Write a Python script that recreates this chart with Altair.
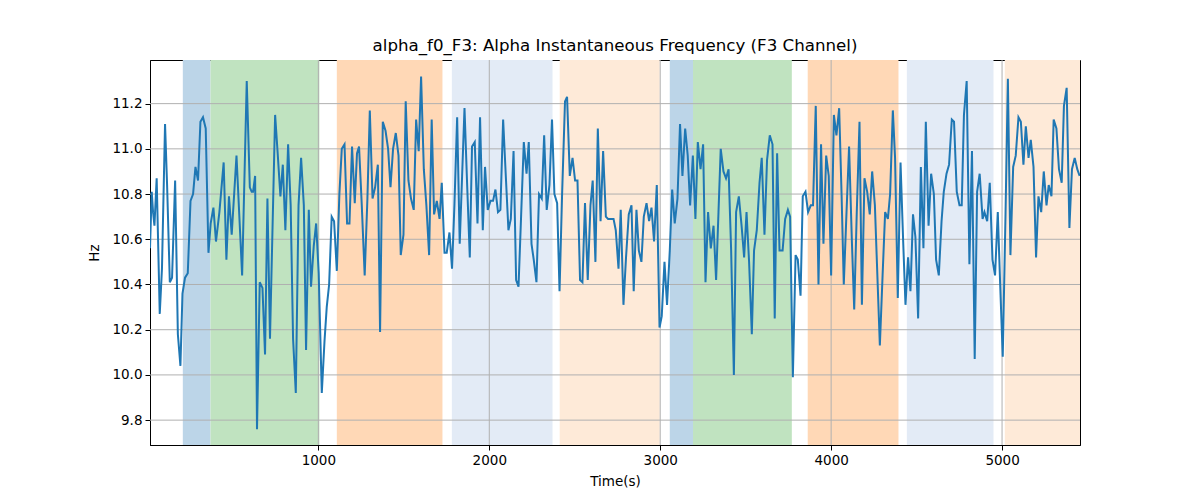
import altair as alt
import pandas as pd

# ---- data ----
times = [15, 25, 33, 41, 54, 72, 85, 103, 115, 131, 144, 162, 178, 193, 205, 220, 236, 252, 267, 281,
         296, 310, 325, 341, 357, 370, 386, 401, 421, 446, 462, 477, 493, 521, 554, 581, 599, 610, 618, 630,
         641, 657, 673, 688, 702, 717, 747, 762, 778, 792, 807, 823, 838, 852, 868, 884, 899, 915, 928, 944,
         957, 973, 987, 1002, 1020, 1036, 1049, 1063, 1078, 1092, 1108, 1123, 1137, 1153, 1168, 1182, 1197, 1213, 1226, 1238,
         1254, 1271, 1287, 1301, 1317, 1332, 1348, 1361, 1377, 1393, 1408, 1422, 1437, 1453, 1469, 1482, 1498, 1511, 1527, 1542,
         1558, 1572, 1587, 1601, 1617, 1632, 1648, 1663, 1677, 1693, 1709, 1722, 1738, 1751, 1767, 1782, 1796, 1812, 1827, 1841,
         1855, 1870, 1886, 1899, 1915, 1931, 1946, 1962, 1975, 1991, 2007, 2022, 2036, 2051, 2065, 2081, 2096, 2112, 2126, 2142,
         2157, 2171, 2186, 2202, 2218, 2231, 2247, 2260, 2276, 2291, 2307, 2321, 2336, 2352, 2367, 2381, 2397, 2411, 2426, 2443,
         2455, 2471, 2487, 2502, 2516, 2531, 2545, 2560, 2576, 2592, 2605, 2621, 2635, 2651, 2666, 2682, 2695, 2711, 2727, 2740,
         2756, 2769, 2785, 2800, 2816, 2832, 2845, 2861, 2875, 2890, 2904, 2920, 2935, 2949, 2964, 2980, 2996, 3009, 3025, 3040,
         3056, 3070, 3085, 3101, 3116, 3130, 3146, 3161, 3175, 3191, 3206, 3220, 3236, 3251, 3265, 3280, 3296, 3312, 3327, 3341,
         3354, 3370, 3385, 3400, 3415, 3431, 3444, 3460, 3476, 3491, 3505, 3520, 3536, 3549, 3565, 3581, 3594, 3610, 3625, 3641,
         3657, 3670, 3684, 3698, 3716, 3731, 3747, 3760, 3776, 3792, 3805, 3821, 3834, 3850, 3865, 3881, 3894, 3910, 3926, 3941,
         3955, 3971, 3986, 4000, 4016, 4031, 4047, 4061, 4074, 4090, 4105, 4121, 4135, 4150, 4166, 4180, 4195, 4211, 4226, 4240,
         4256, 4285, 4301, 4316, 4332, 4345, 4361, 4374, 4390, 4406, 4421, 4435, 4450, 4464, 4479, 4493, 4509, 4525, 4540, 4554,
         4570, 4585, 4601, 4614, 4630, 4646, 4659, 4675, 4690, 4706, 4719, 4735, 4751, 4764, 4777, 4793, 4809, 4824, 4840, 4854,
         4869, 4886, 4897, 4913, 4928, 4944, 4959, 4975, 4989, 5004, 5020, 5034, 5049, 5065, 5080, 5096, 5110, 5125, 5139, 5155,
         5168, 5184, 5199, 5213, 5229, 5244, 5260, 5273, 5289, 5302, 5318, 5333, 5349, 5362, 5378, 5394, 5409, 5425, 5440, 5454]

freq = [10.56, 10.81, 10.72, 10.66, 10.87, 10.27, 10.47, 11.11, 10.84, 10.41, 10.43, 10.86, 10.18, 10.04, 10.36, 10.43, 10.45, 10.77, 10.80, 10.92,
        10.86, 11.12, 11.14, 11.09, 10.54, 10.67, 10.74, 10.59, 10.72, 10.94, 10.51, 10.79, 10.62, 10.97, 10.44, 11.30, 10.83, 10.81, 10.81, 10.88,
        9.76, 10.41, 10.385, 10.09, 10.78, 10.16, 11.15, 10.98, 10.79, 10.93, 10.64, 11.02, 10.75, 10.16, 9.92, 10.75, 10.96, 10.75, 10.11, 10.73,
        10.39, 10.57, 10.67, 10.45, 9.92, 10.15, 10.30, 10.40, 10.70, 10.68, 10.46, 10.80, 11.00, 11.02, 10.67, 10.67, 11.01, 10.76, 10.98, 11.01,
        10.75, 10.44, 10.78, 11.17, 10.78, 10.83, 10.93, 10.19, 11.12, 11.08, 11.00, 10.83, 11.00, 11.07, 10.97, 10.53, 10.62, 11.21, 10.86, 10.78,
        10.73, 11.13, 10.99, 11.32, 10.91, 10.75, 10.53, 11.13, 10.71, 10.77, 10.69, 10.85, 10.54, 10.54, 10.63, 10.47, 10.75, 11.14, 10.58, 10.88,
        11.18, 10.85, 10.52, 11.01, 11.03, 10.67, 11.14, 10.64, 10.92, 10.73, 10.77, 10.77, 10.82, 10.72, 10.73, 11.13, 10.89, 10.64, 10.69, 10.99,
        10.42, 10.39, 10.70, 11.03, 10.89, 11.03, 10.58, 10.51, 10.41, 10.80, 10.78, 11.06, 10.73, 10.84, 11.13, 10.80, 10.76, 10.37, 10.80, 11.21,
        11.23, 10.88, 10.96, 10.86, 10.86, 10.42, 10.41, 10.76, 10.42, 10.75, 10.86, 10.50, 11.09, 10.68, 10.99, 10.70, 10.69, 10.69, 10.69, 10.64,
        10.47, 10.73, 10.31, 10.52, 10.71, 10.75, 10.37, 10.73, 10.55, 10.50, 10.70, 10.76, 10.68, 10.74, 10.59, 10.84, 10.21, 10.26, 10.50, 10.31,
        10.55, 10.82, 10.67, 10.78, 11.11, 10.88, 11.09, 10.97, 10.75, 10.97, 10.69, 11.03, 10.91, 11.02, 10.41, 10.72, 10.56, 10.66, 10.42, 10.72,
        11.00, 10.90, 10.87, 10.91, 10.55, 10.00, 10.72, 10.79, 10.66, 10.52, 10.72, 10.50, 10.18, 10.55, 10.64, 10.85, 10.96, 10.62, 10.95, 11.06,
        11.02, 10.25, 10.98, 10.55, 10.55, 10.69, 10.73, 10.70, 9.99, 10.53, 10.51, 10.35, 10.79, 10.81, 10.72, 10.75, 10.75, 11.19, 10.40, 11.02,
        10.58, 10.97, 10.88, 10.44, 11.15, 11.06, 11.18, 10.80, 10.40, 10.72, 11.01, 10.60, 10.29, 10.72, 11.12, 10.31, 10.87, 10.81, 10.71, 10.90,
        10.75, 10.13, 10.44, 10.72, 10.69, 10.80, 11.17, 10.96, 10.34, 10.94, 10.60, 10.31, 10.52, 10.37, 10.71, 10.61, 10.25, 10.92, 10.56, 11.12,
        10.66, 10.89, 10.80, 10.51, 10.44, 10.68, 10.81, 10.89, 10.93, 11.13, 11.12, 10.81, 10.75, 10.75, 11.15, 11.30, 10.49, 10.99, 10.07, 10.81,
        10.89, 10.69, 10.72, 10.68, 10.85, 10.51, 10.44, 10.72, 10.40, 10.08, 10.70, 11.31, 10.53, 10.92, 10.97, 11.14, 11.12, 10.93, 11.10, 10.96,
        11.04, 10.92, 10.52, 10.79, 10.72, 10.90, 10.75, 10.84, 10.79, 11.13, 11.09, 10.91, 10.85, 11.19, 11.27, 10.65, 10.91, 10.96, 10.91, 10.88]

span_start = [207, 369, 1108, 1781, 2412, 3056, 3192, 3863, 4443, 5016]
span_end = [369, 1006, 1726, 2370, 2997, 3192, 3770, 4394, 4950, 5470]
span_kind = ["blue", "green", "orange", "lightblue", "lightorange",
             "blue", "green", "orange", "lightblue", "lightorange"]
kind_names = ["blue", "green", "orange", "lightblue", "lightorange"]
kind_colors = ["#bcd5e8", "#c0e3c0", "#ffd8b6", "#e3ebf6", "#feead8"]

x_ticks = [1000, 2000, 3000, 4000, 5000]
y_ticks = [9.8, 10.0, 10.2, 10.4, 10.6, 10.8, 11.0, 11.2]

X_DOM = [15, 5456]
Y_DOM = [9.69, 11.393]

line_df = pd.DataFrame({"t": times, "f": freq})
span_df = pd.DataFrame({"s": span_start, "e": span_end, "k": span_kind})
xg_df = pd.DataFrame({"v": x_ticks})
yg_df = pd.DataFrame({"v": y_ticks})

FONT = "DejaVu Sans"
xscale = alt.Scale(domain=X_DOM, nice=False, zero=False)
yscale = alt.Scale(domain=Y_DOM, nice=False, zero=False)

spans = alt.Chart(span_df).mark_rect(clip=True).encode(
    x=alt.X("s:Q", scale=xscale, title="Time(s)",
            axis=alt.Axis(values=x_ticks, format="d", grid=False)),
    x2="e:Q",
    y=alt.value(0),
    y2=alt.value(385),
    color=alt.Color("k:N", scale=alt.Scale(domain=kind_names, range=kind_colors), legend=None),
)

xgrid = alt.Chart(xg_df).mark_rule(color="#b0b0b0", strokeWidth=1).encode(
    x=alt.X("v:Q", scale=xscale),
    y=alt.value(0),
    y2=alt.value(385),
)
ygrid = alt.Chart(yg_df).mark_rule(color="#b0b0b0", strokeWidth=1).encode(
    y=alt.Y("v:Q", scale=yscale),
    x=alt.value(0),
    x2=alt.value(930),
)

line = alt.Chart(line_df).mark_line(color="#1f77b4", strokeWidth=2, clip=True).encode(
    x=alt.X("t:Q", scale=xscale),
    y=alt.Y("f:Q", scale=yscale, title="Hz",
            axis=alt.Axis(values=y_ticks, format=".1f", grid=False)),
)

chart = alt.layer(spans, xgrid, ygrid, line).properties(
    width=930,
    height=385,
    title=alt.Title("alpha_f0_F3: Alpha Instantaneous Frequency (F3 Channel)",
                    font=FONT, fontSize=16.67, fontWeight="normal", color="black", offset=5),
    autosize=alt.AutoSizeParams(type="none"),
    padding={"left": 142, "top": 52, "right": 112, "bottom": 50},
).configure_view(
    stroke="black", strokeWidth=1
).configure_axis(
    labelFont=FONT, titleFont=FONT, labelFontSize=13.5, titleFontSize=13.5,
    titleFontWeight="normal", labelColor="black", titleColor="black",
    domainColor="black", tickColor="black", tickSize=5, labelPadding=3,
    domain=True,
).configure_axisX(
    titlePadding=8
).configure_axisY(
    titlePadding=10
)

chart.save("out.html", embed_options={"renderer": "svg", "actions": False})
